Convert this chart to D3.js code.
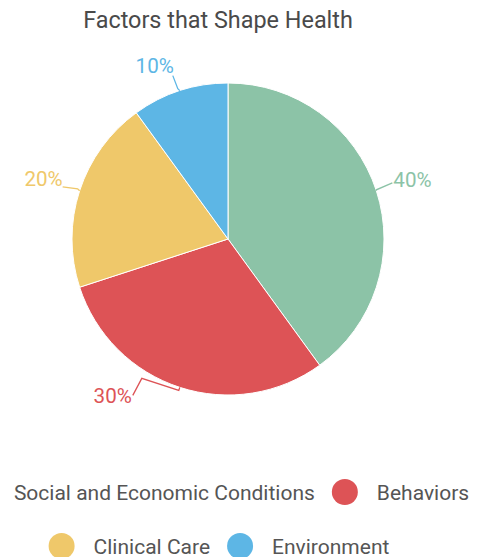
<!DOCTYPE html>
<html>
<head>
<meta charset="utf-8">
<script src="https://cdn.jsdelivr.net/npm/d3@7"></script>
<style>
  html, body { margin: 0; padding: 0; background: #fff; }
  svg { display: block; font-family: Roboto, "Noto Sans", sans-serif; }
</style>
</head>
<body>
<svg id="chart" width="484" height="557"></svg>
<script>
// Data
const categories = ["Social and Economic Conditions", "Behaviors", "Clinical Care", "Environment"];
const shares = [40, 30, 20, 10];
const percentLabels = ["40%", "30%", "20%", "10%"];
const colors = ["#8cc3a7", "#dd5356", "#efc86a", "#5db6e5"];

// Layout
const W = 484, H = 557;
const cx = 228, cy = 239, radius = 156;
const legendCenterX = 219;
const legendRows = [[0, 1], [2, 3]];
const legendRowY = [492, 546];
const dotR = 13;

// Leader-line bends, relative to the point where each slice's mid-angle meets the rim
const leaders = [
  { pts: [[0, -1], [16, -8]], anchor: "start", text: [17, -4] },
  { pts: [[-1, 3], [-38, -9], [-47, 8]], anchor: "end", text: [-48, 16] },
  { pts: [[-2, -2], [-17, -4]], anchor: "end", text: [-17, -5] },
  { pts: [[-2, -2], [-7, -15]], anchor: "end", text: [-6, -18] }
];

const svg = d3.select("#chart");

svg.append("text")
  .attr("x", 218).attr("y", 28)
  .attr("text-anchor", "middle")
  .attr("font-size", 23.4)
  .attr("fill", "#4a4a4a")
  .text("Factors that Shape Health");

const pie = d3.pie().sort(null).value(d => d)(shares);
const arc = d3.arc().innerRadius(0).outerRadius(radius);

const g = svg.append("g").attr("transform", `translate(${cx},${cy})`);

g.selectAll("path.slice")
  .data(pie)
  .join("path")
  .attr("class", "slice")
  .attr("d", arc)
  .attr("fill", (d, i) => colors[i])
  .attr("stroke", "#fff")
  .attr("stroke-width", 1);

pie.forEach((d, i) => {
  const a = (d.startAngle + d.endAngle) / 2;
  const px = radius * Math.sin(a), py = -radius * Math.cos(a);
  const L = leaders[i];
  const pts = [[px, py]].concat(L.pts.map(p => [px + p[0], py + p[1]]));
  g.append("path")
    .attr("d", d3.line()(pts))
    .attr("fill", "none")
    .attr("stroke", colors[i])
    .attr("stroke-width", 1.3);
  g.append("text")
    .attr("x", px + L.text[0]).attr("y", py + L.text[1])
    .attr("text-anchor", L.anchor)
    .attr("font-size", 20.6)
    .attr("fill", colors[i])
    .text(percentLabels[i]);
});

// Legend: centred rows of dot + name
const legendFont = 21;
const measure = svg.append("text").attr("font-size", legendFont).attr("visibility", "hidden");
function textWidth(s) { measure.text(s); return measure.node().getComputedTextLength(); }
const dotToText = 19, textToDot = 17;

legendRows.forEach((row, r) => {
  const widths = row.map(i => textWidth(categories[i]));
  let total = 0;
  row.forEach((i, k) => { total += 2 * dotR + dotToText + widths[k]; if (k < row.length - 1) total += textToDot; });
  let x = legendCenterX - total / 2;
  const y = legendRowY[r];
  row.forEach((i, k) => {
    svg.append("circle")
      .attr("cx", x + dotR).attr("cy", y)
      .attr("r", dotR)
      .attr("fill", colors[i]);
    x += 2 * dotR + dotToText;
    svg.append("text")
      .attr("x", x).attr("y", y + 7.5)
      .attr("font-size", legendFont)
      .attr("fill", "#555")
      .text(categories[i]);
    x += widths[k] + textToDot;
  });
});
measure.remove();
</script>
</body>
</html>
